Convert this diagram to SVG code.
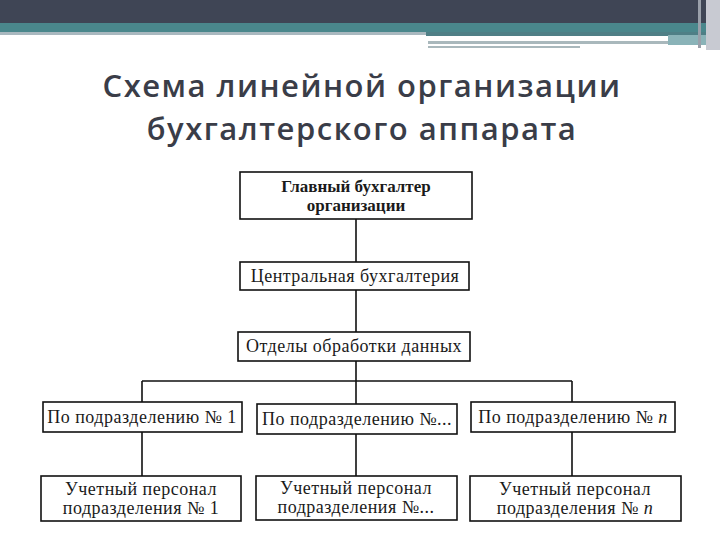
<svg xmlns="http://www.w3.org/2000/svg" width="720" height="540" viewBox="0 0 720 540">
<style>
.box{fill:#fff;stroke:#111;stroke-width:1.6}
.t{font-family:"Liberation Serif","Times New Roman",serif;font-size:18px;letter-spacing:0.5px;fill:#1a1a1a;text-anchor:middle}
.b{font-weight:bold;font-size:17px;letter-spacing:0}
.ttl{font-family:"Open Sans","DejaVu Sans",sans-serif;font-weight:600;font-size:31px;letter-spacing:1.5px;fill:#3a3d48;text-anchor:middle}
.ln{stroke:#111;stroke-width:1.6;fill:none}
</style>
<rect width="720" height="540" fill="#fff"/>
<g id="header">
<rect x="0" y="0" width="720" height="24" fill="#3f4555"/>
<rect x="0" y="23" width="720" height="9" fill="#4a878c"/>
<rect x="0" y="32" width="426" height="3" fill="#a9b8bf"/>
<rect x="426" y="32" width="280" height="4" fill="#4f7f86"/>
<rect x="426" y="37" width="242" height="2" fill="#ffffff"/>
<rect x="428" y="41" width="240" height="3" fill="#a9b8bc"/>
<rect x="428" y="46" width="152" height="2" fill="#a9b8bc"/>
<rect x="668" y="35" width="38" height="10" fill="#8ab3b8"/>
<rect x="698" y="0" width="3" height="48" fill="#9aa0aa"/>
<rect x="706" y="0" width="14" height="50" fill="#c8cad2"/>
</g>
<g id="title">
<text class="ttl" x="362" y="97">Схема линейной организации</text>
<text class="ttl" x="362" y="140">бухгалтерского аппарата</text>
</g>
<g id="connectors">
<path class="ln" d="M356 219V262M356 290V332M356 361V404M142 381H572M142 381V402M572 381V402M142 432V476M356 434V476M572 432V476"/>
</g>
<g id="n1"><rect class="box" x="240" y="172" width="232" height="47"/>
<text class="t b" x="356" y="192">Главный бухгалтер</text><text class="t b" x="356" y="211">организации</text></g>
<g id="n2"><rect class="box" x="240" y="262" width="229" height="28"/>
<text class="t" x="355" y="282">Центральная бухгалтерия</text></g>
<g id="n3"><rect class="box" x="238" y="332" width="232" height="29"/>
<text class="t" x="354" y="352">Отделы обработки данных</text></g>
<g id="n4"><rect class="box" x="43" y="402" width="199" height="30"/>
<text class="t" x="142" y="423">По подразделению № 1</text></g>
<g id="n5"><rect class="box" x="257" y="404" width="200" height="30"/>
<text class="t" x="357" y="425">По подразделению №...</text></g>
<g id="n6"><rect class="box" x="471" y="402" width="204" height="30"/>
<text class="t" x="573" y="423">По подразделению № <tspan font-style="italic">n</tspan></text></g>
<g id="n7"><rect class="box" x="41" y="476" width="200" height="45"/>
<text class="t" x="141" y="495">Учетный персонал</text><text class="t" x="141" y="514">подразделения № 1</text></g>
<g id="n8"><rect class="box" x="256" y="476" width="201" height="44"/>
<text class="t" x="356" y="494">Учетный персонал</text><text class="t" x="356" y="513">подразделения №...</text></g>
<g id="n9"><rect class="box" x="470" y="476" width="211" height="45"/>
<text class="t" x="575" y="495">Учетный персонал</text><text class="t" x="575" y="514">подразделения № <tspan font-style="italic">n</tspan></text></g>
</svg>
